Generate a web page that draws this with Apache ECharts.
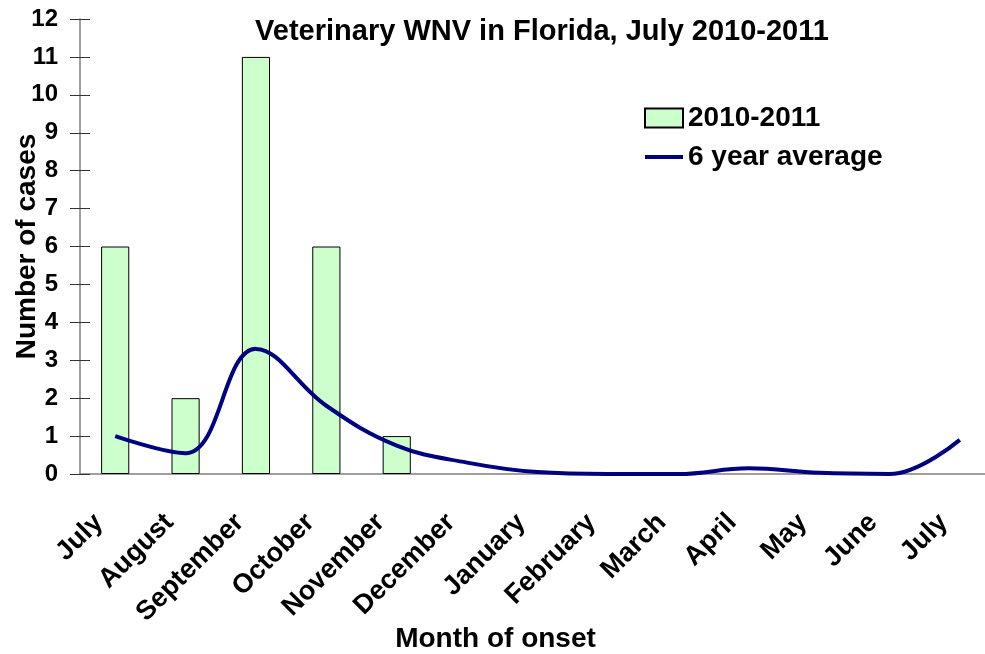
<!DOCTYPE html>
<html>
<head>
<meta charset="utf-8">
<script src="https://cdn.jsdelivr.net/npm/echarts@6/dist/echarts.min.js"></script>
<style>
  html, body { margin: 0; padding: 0; background: #fff; }
  #chart { width: 985px; height: 654px; }
</style>
</head>
<body>
<div id="chart"></div>
<script>
// months of onset, July 2010 to July 2011
const months = ['July', 'August', 'September', 'October', 'November', 'December',
  'January', 'February', 'March', 'April', 'May', 'June', 'July'];
// cases 2010-2011
const cases = [6, 2, 11, 6, 1, 0, 0, 0, 0, 0, 0, 0, 0];
// 6 year average
const average = [1, 0.55, 3.3, 1.8, 0.75, 0.3, 0.05, 0, 0, 0.15, 0.03, 0, 0.9];
const yTicks = [0, 1, 2, 3, 4, 5, 6, 7, 8, 9, 10, 11, 12];

const font = '"Liberation Sans", Arial, sans-serif';
const chart = echarts.init(document.getElementById('chart'));

chart.setOption({
  animation: false,
  textStyle: { fontFamily: font },
  title: {
    text: 'Veterinary WNV in Florida, July 2010-2011',
    left: 537,
    textAlign: 'center',
    top: 12,
    textStyle: { fontSize: 29, fontWeight: 'bold', color: '#000', fontFamily: font },
  },
  legend: {
    orient: 'vertical',
    left: 638,
    top: 99,
    itemWidth: 38,
    itemHeight: 19,
    itemGap: 11,
    textStyle: { fontSize: 28, fontWeight: 'bold', color: '#000', fontFamily: font },
    data: [
      { name: '2010-2011', icon: 'rect' },
      {
        name: '6 year average',
        lineStyle: { width: 4, color: '#000080' },
        itemStyle: { color: 'rgba(0,0,0,0)', borderColor: 'rgba(0,0,0,0)', borderWidth: 0 },
      },
    ],
  },
  grid: { left: 80, right: -10, top: 19, bottom: 180, outerBoundsMode: 'none', containLabel: false },
  xAxis: {
    type: 'category',
    data: months,
    name: 'Month of onset',
    nameLocation: 'middle',
    nameGap: 151,
    nameMoveOverlap: false,
    nameTextStyle: { fontSize: 28, fontWeight: 'bold', color: '#000', padding: [0, 84, 0, 0] },
    axisLine: { lineStyle: { color: '#808080', width: 1.5 } },
    axisTick: { length: 9, lineStyle: { color: '#333' } },
    axisLabel: {
      rotate: 45, fontSize: 27, fontWeight: 'bold', color: '#000',
      margin: 28, padding: [0, 23, 0, 0], interval: 0,
    },
  },
  yAxis: [
    {
      type: 'value',
      min: 0,
      max: 12,
      interval: 1,
      name: 'Number of cases',
      nameLocation: 'middle',
      nameGap: 39,
      nameMoveOverlap: false,
      nameTextStyle: { fontSize: 28, fontWeight: 'bold', color: '#000' },
      axisLine: { show: true, lineStyle: { color: '#808080', width: 1.5 } },
      axisTick: { show: true, length: 10, lineStyle: { color: '#333' } },
      axisLabel: {
        fontSize: 24, fontWeight: 'bold', color: '#000', margin: 22,
        formatter: v => yTicks.includes(v) ? String(v) : '',
      },
      splitLine: { show: false },
    },
    {
      type: 'value',
      position: 'left',
      min: 0,
      max: 12,
      interval: 1,
      axisLine: { show: false },
      axisTick: { show: true, inside: true, length: 10, lineStyle: { color: '#333' } },
      axisLabel: { show: false },
      splitLine: { show: false },
    },
  ],
  series: [
    {
      name: '2010-2011',
      type: 'bar',
      data: cases.map(v => (v === 0 ? null : v)),
      barWidth: '40%',
      itemStyle: { color: '#ccffcc', borderColor: '#000', borderWidth: 1 },
    },
    {
      name: '6 year average',
      type: 'line',
      data: average,
      smooth: 0.4,
      symbol: 'none',
      lineStyle: { color: '#000080', width: 4 },
      itemStyle: { color: '#000080' },
    },
  ],
});
</script>
</body>
</html>
